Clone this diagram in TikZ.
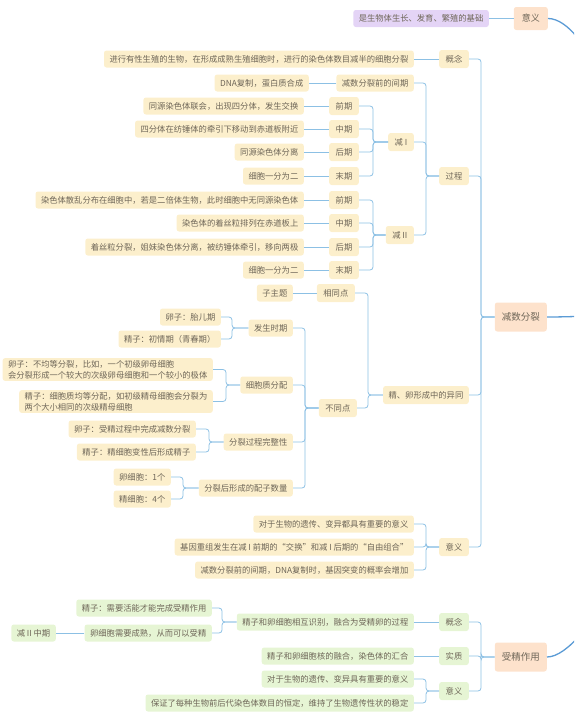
\documentclass[tikz,border=0pt]{standalone}
\usepackage{fontspec}
\newfontfamily\cjk{Noto Sans CJK SC}
\definecolor{yfill}{HTML}{FCEFCC}
\definecolor{gfill}{HTML}{E6F5D4}
\definecolor{pfill}{HTML}{E4D4F6}
\definecolor{peach}{HTML}{FDE2CC}
\definecolor{tcol}{HTML}{6E6658}
\definecolor{lcol}{HTML}{8CC0E4}
\definecolor{mcol}{HTML}{5B9BD5}
\newcommand\mmlink[3]{\draw[conn] (#1.west) -- (#3,0 |- #1.west) |- (#2.east);}
\begin{document}
\begin{tikzpicture}[x=1pt,y=-1pt,
 mmbox/.style={rounded corners=2.5pt, inner xsep=5.5pt, inner ysep=2pt, minimum height=17pt, text=tcol, font=\cjk\fontsize{8.3}{11}\selectfont, anchor=east},
 ybox/.style={mmbox, fill=yfill},
 gbox/.style={mmbox, fill=gfill},
 lvbox/.style={mmbox, fill=yfill, minimum height=18pt, inner xsep=6.5pt},
 lvgbox/.style={mmbox, fill=gfill, minimum height=18pt, inner xsep=6.5pt},
 rootbox/.style={mmbox, fill=peach, font=\cjk\fontsize{9.5}{11}\selectfont, inner xsep=7pt, minimum height=29pt},
 conn/.style={draw=lcol, line width=0.8pt, rounded corners=3pt},
 mainc/.style={draw=mcol, line width=1.3pt}]
\useasboundingbox (0,0) rectangle (574,715);

% top
\node[mmbox, fill=peach, font=\cjk\fontsize{9}{11}\selectfont, inner xsep=8pt, minimum height=23pt] (yy0) at (548,18.5) {意义};
\node[mmbox, fill=pfill] (yy0a) at (489,18.5) {是生物体生长、发育、繁殖的基础};
\draw[conn] (yy0.west) -- (yy0a.east);

% meiosis
\node[rootbox] (js) at (547,317) {减数分裂};
\node[lvbox] (gn) at (469,59) {概念};
\node[lvbox] (gc) at (469,176) {过程};
\node[lvbox, inner xsep=5.5pt] (yt) at (469,395) {精、卵形成中的异同};
\node[lvbox] (yy1) at (469,547) {意义};
\mmlink{js}{gn}{481}
\mmlink{js}{gc}{481}
\mmlink{js}{yt}{481}
\mmlink{js}{yy1}{481}

\node[ybox] (gn1) at (414,59) {进行有性生殖的生物，在形成成熟生殖细胞时，进行的染色体数目减半的细胞分裂};
\draw[conn] (gn.west) -- (gn1.east);

\node[ybox] (jq) at (414,83) {减数分裂前的间期};
\node[lvbox] (j1) at (414,142) {减 I};
\node[lvbox] (j2) at (414,235) {减 II};
\mmlink{gc}{jq}{426}
\mmlink{gc}{j1}{426}
\mmlink{gc}{j2}{426}
\node[ybox] (jq1) at (309,83) {DNA复制，蛋白质合成};
\draw[conn] (jq.west) -- (jq1.east);

\node[lvbox] (p11) at (359,106) {前期};
\node[lvbox] (p12) at (359,129) {中期};
\node[lvbox] (p13) at (359,152) {后期};
\node[lvbox] (p14) at (359,176) {末期};
\node[ybox] (t11) at (304,106) {同源染色体联会，出现四分体，发生交换};
\node[ybox] (t12) at (304,129) {四分体在纺锤体的牵引下移动到赤道板附近};
\node[ybox] (t13) at (304,152) {同源染色体分离};
\node[ybox] (t14) at (304,176) {细胞一分为二};
\foreach \i in {1,...,4}{\mmlink{j1}{p1\i}{373}\draw[conn] (p1\i.west) -- (t1\i.east);}

\node[lvbox] (p21) at (359,200) {前期};
\node[lvbox] (p22) at (359,223) {中期};
\node[lvbox] (p23) at (359,247) {后期};
\node[lvbox] (p24) at (359,270) {末期};
\node[ybox] (t21) at (304,200) {染色体散乱分布在细胞中，若是二倍体生物，此时细胞中无同源染色体};
\node[ybox] (t22) at (304,223) {染色体的着丝粒排列在赤道板上};
\node[ybox] (t23) at (304,247) {着丝粒分裂，姐妹染色体分离，被纺锤体牵引，移向两极};
\node[ybox] (t24) at (304,270) {细胞一分为二};
\foreach \i in {1,...,4}{\mmlink{j2}{p2\i}{373}\draw[conn] (p2\i.west) -- (t2\i.east);}

% similarities and differences
\node[lvbox] (xt) at (355,293) {相同点};
\node[lvbox] (bt) at (357,408) {不同点};
\mmlink{yt}{xt}{368}
\mmlink{yt}{bt}{368}
\node[ybox] (xt1) at (293,293) {子主题};
\draw[conn] (xt.west) -- (xt1.east);

\node[ybox] (b1) at (293,328) {发生时期};
\node[ybox] (b2) at (293,385) {细胞质分配};
\node[ybox] (b3) at (293,442) {分裂过程完整性};
\node[ybox] (b4) at (293,488) {分裂后形成的配子数量};
\foreach \i in {1,...,4}{\mmlink{bt}{b\i}{305}}

\node[ybox] (b11) at (221,317) {卵子：胎儿期};
\node[ybox] (b12) at (221,339) {精子：初情期（青春期）};
\mmlink{b1}{b11}{232}
\mmlink{b1}{b12}{232}
\node[ybox, align=left] (b21) at (213,369.5) {卵子：不均等分裂，比如，一个初级卵母细胞\\会分裂形成一个较大的次级卵母细胞和一个较小的极体};
\node[ybox, align=left] (b22) at (213,401.5) {精子：细胞质均等分配，如初级精母细胞会分裂为\\两个大小相同的次级精母细胞};
\mmlink{b2}{b21}{226}
\mmlink{b2}{b22}{226}
\node[ybox] (b31) at (196,429) {卵子：受精过程中完成减数分裂};
\node[ybox] (b32) at (196,452) {精子：精细胞变性后形成精子};
\mmlink{b3}{b31}{209}
\mmlink{b3}{b32}{209}
\node[ybox] (b41) at (171,477) {卵细胞：1个};
\node[ybox] (b42) at (171,499) {精细胞：4个};
\mmlink{b4}{b41}{183}
\mmlink{b4}{b42}{183}

% significance
\node[ybox] (y1) at (414,524) {对于生物的遗传、变异都具有重要的意义};
\node[ybox] (y2) at (414,547) {基因重组发生在减 I 前期的“交换”和减 I 后期的“自由组合”};
\node[ybox] (y3) at (414,570) {减数分裂前的间期，DNA复制时，基因突变的概率会增加};
\mmlink{yy1}{y1}{426}
\mmlink{yy1}{y2}{426}
\mmlink{yy1}{y3}{426}

% fertilization
\node[rootbox] (sj) at (547,657) {受精作用};
\node[lvgbox] (sg) at (469,622) {概念};
\node[lvgbox] (ss) at (469,656) {实质};
\node[lvgbox] (sy) at (469,691) {意义};
\mmlink{sj}{sg}{481}
\mmlink{sj}{ss}{481}
\mmlink{sj}{sy}{481}
\node[gbox] (sg1) at (414,622) {精子和卵细胞相互识别，融合为受精卵的过程};
\draw[conn] (sg.west) -- (sg1.east);
\node[gbox] (sg11) at (212,608) {精子：需要活能才能完成受精作用};
\node[gbox] (sg12) at (212,633) {卵细胞需要成熟，从而可以受精};
\mmlink{sg1}{sg11}{222}
\mmlink{sg1}{sg12}{222}
\node[gbox] (sg121) at (56,633) {减 II 中期};
\draw[conn] (sg12.west) -- (sg121.east);
\node[gbox] (ss1) at (414,656) {精子和卵细胞核的融合，染色体的汇合};
\draw[conn] (ss.west) -- (ss1.east);
\node[gbox] (sy1) at (414,679) {对于生物的遗传、变异具有重要的意义};
\node[gbox] (sy2) at (414,703) {保证了每种生物前后代染色体数目的恒定，维持了生物遗传性状的稳定};
\mmlink{sy}{sy1}{426}
\mmlink{sy}{sy2}{426}

% curves to the off-picture root
\begin{scope}
\clip (0,0) rectangle (574,715);
\coordinate (r1) at (600,80);
\coordinate (r2) at (600,316);
\coordinate (r3) at (610,590);
\draw[mainc] (yy0.east) .. controls +(20,0) and +(-10,-30) .. (r1);
\draw[mainc] (js.east) .. controls +(20,0) and +(-15,0) .. (r2);
\draw[mainc] (sj.east) .. controls +(20,0) and +(-15,30) .. (r3);
\end{scope}
\end{tikzpicture}
\end{document}
